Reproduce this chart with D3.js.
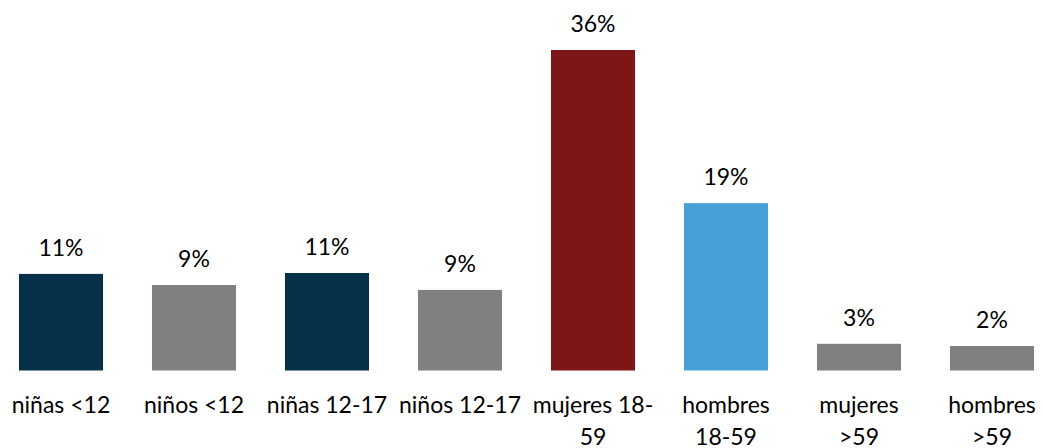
<!DOCTYPE html>
<meta charset="utf-8">
<script src="https://cdn.jsdelivr.net/npm/d3@7"></script>
<style>
body { margin: 0; background: #fff; }
text { font-family: Lato, "Open Sans", sans-serif; font-size: 23px; fill: #000; }
</style>
<body>
<script>

// categories (line breaks as in the original wrapped labels)
var categories = ["niñas <12", "niños <12", "niñas 12-17", "niños 12-17",
                  "mujeres 18-\n59", "hombres\n18-59", "mujeres\n>59", "hombres\n>59"];
var values = [10.85, 9.6, 10.95, 9.05, 36.0, 18.8, 3.0, 2.75];
var labels = ["11%", "9%", "11%", "9%", "36%", "19%", "3%", "2%"];
var colors = ["#06304a", "#808080", "#06304a", "#808080", "#7e1518", "#47a0d6", "#808080", "#808080"];

var width = 1043,
    height = 448;

var svg = d3.select("body").append("svg")
    .attr("width", width)
    .attr("height", height);

var x = d3.scaleBand()
    .domain(categories)
    .range([-5.5, 1058.5])
    .paddingInner(0.368)
    .paddingOuter(0.184);

var y = d3.scaleLinear()
    .domain([0, 36])
    .range([370.5, 50]);

var data = categories.map(function(c, i) {
  return {cat: c, value: values[i], label: labels[i], color: colors[i]};
});

// bars
svg.append("g")
  .selectAll("rect")
  .data(data)
  .enter().append("rect")
    .attr("x", function(d) { return x(d.cat); })
    .attr("width", x.bandwidth())
    .attr("y", function(d) { return y(d.value); })
    .attr("height", function(d) { return y(0) - y(d.value); })
    .style("fill", function(d) { return d.color; });

// value labels
svg.append("g")
  .selectAll("text")
  .data(data)
  .enter().append("text")
    .attr("x", function(d) { return x(d.cat) + x.bandwidth() / 2; })
    .attr("y", function(d) { return y(d.value) - 18; })
    .attr("text-anchor", "middle")
    .text(function(d) { return d.label; });

// category labels
var cat = svg.append("g")
  .selectAll("text")
  .data(data)
  .enter().append("text")
    .attr("text-anchor", "middle")
    .attr("y", 413);

cat.each(function(d) {
  var t = d3.select(this);
  var cx = x(d.cat) + x.bandwidth() / 2;
  d.cat.split("\n").forEach(function(line, i) {
    t.append("tspan")
      .attr("x", cx)
      .attr("dy", i == 0 ? 0 : 32)
      .text(line);
  });
});

</script>
</body>
